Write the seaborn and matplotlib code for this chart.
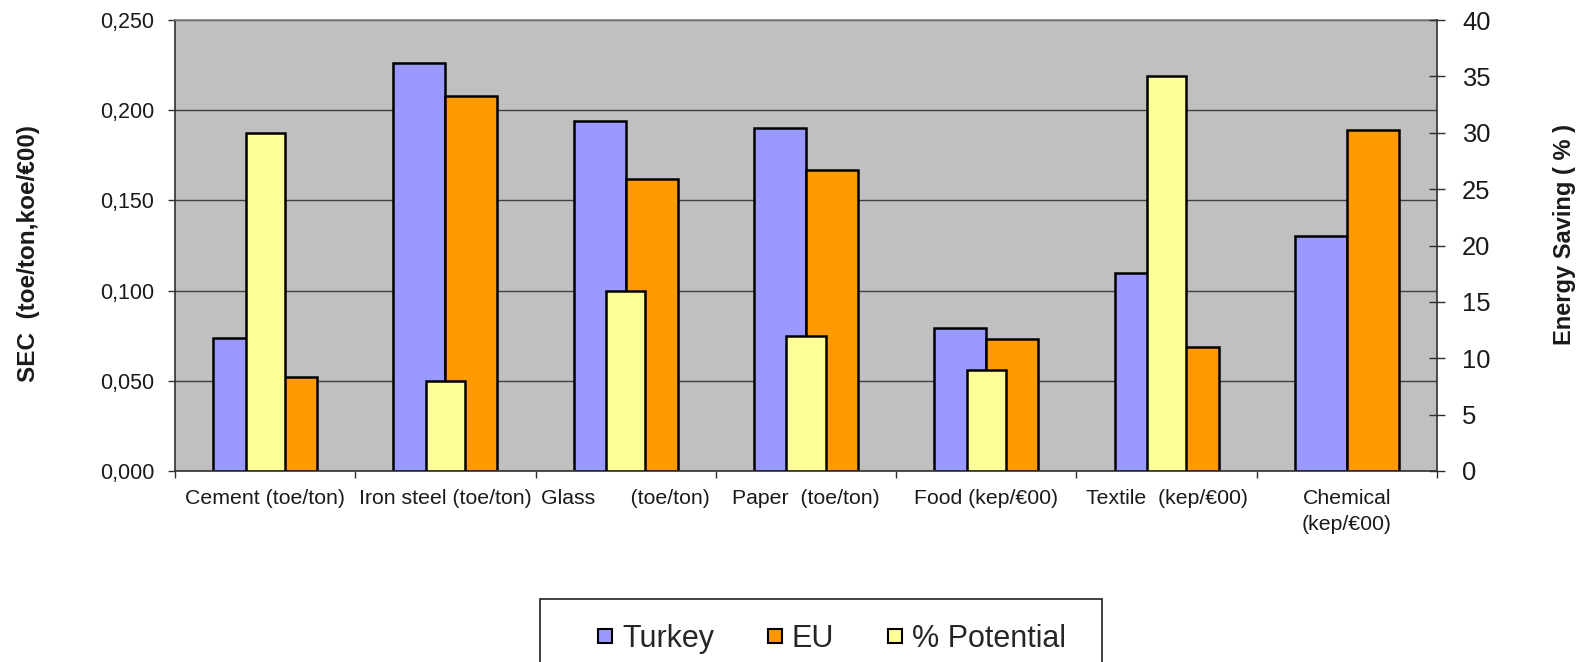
import matplotlib
matplotlib.use("Agg")
import matplotlib.pyplot as plt
import seaborn as sns
import pandas as pd
import numpy as np
from matplotlib.patches import Rectangle
from matplotlib.lines import Line2D

# ---- data ----
categories = ["Cement (toe/ton)", "Iron steel (toe/ton)", "Glass      (toe/ton)",
              "Paper  (toe/ton)", "Food (kep/€00)", "Textile  (kep/€00)",
              "Chemical\n(kep/€00)"]
turkey = [0.074, 0.226, 0.194, 0.190, 0.079, 0.110, 0.130]
eu = [0.052, 0.208, 0.162, 0.167, 0.073, 0.069, 0.189]
potential = [30, 8, 16, 12, 9, 35, np.nan]
sec_ticks = [0.0, 0.05, 0.10, 0.15, 0.20, 0.25]
sec_tick_labels = ["0,000", "0,050", "0,100", "0,150", "0,200", "0,250"]
pct_ticks = [0, 5, 10, 15, 20, 25, 30, 35, 40]
series = ["Turkey", "EU", "% Potential"]
colors = {"Turkey": "#9999FF", "EU": "#FF9900", "% Potential": "#FFFF99"}

sns.set_theme(style="white")
plt.rcParams["font.family"] = ["Liberation Sans", "DejaVu Sans"]

W, H = 1587, 662
fig = plt.figure(figsize=(W / 100, H / 100), dpi=100)
ax = fig.add_axes([175 / W, 1 - 471 / H, 1262 / W, 451 / H])
ax.set_facecolor("#C0C0C0")

df = pd.DataFrame({
    "Sector": categories * 2,
    "Series": ["Turkey"] * len(categories) + ["EU"] * len(categories),
    "Value": turkey + eu,
})
sns.barplot(data=df, x="Sector", y="Value", hue="Series", order=categories,
            hue_order=["Turkey", "EU"], palette=colors, saturation=1,
            width=0.577, edgecolor="black", linewidth=1.8, errorbar=None,
            legend=False, ax=ax, zorder=2)

ax2 = ax.twinx()
pdf = pd.DataFrame({"Sector": categories, "Value": potential})
sns.barplot(data=pdf, x="Sector", y="Value", order=categories,
            color=colors["% Potential"], saturation=1, width=0.217,
            edgecolor="black", linewidth=1.8, errorbar=None, ax=ax2, zorder=3)

ax.set_xlim(-0.5, len(categories) - 0.5)
ax.set_ylim(0, 0.25)
ax2.set_ylim(0, 40)

ax.set_axisbelow(True)
ax.yaxis.grid(True, color="#404040", linewidth=1.0)
ax.xaxis.grid(False)

# x ticks
ax.set_xticks(range(len(categories)))
ax.set_xticklabels(categories, fontsize=15.3, color="#1a1a1a")
ax.get_xticklabels()[-1].set_linespacing(1.45)
ax.set_xticks(np.arange(-0.5, len(categories), 1.0), minor=True)
ax.tick_params(axis="x", which="major", length=0, pad=13)
ax.tick_params(axis="x", which="minor", bottom=True, direction="out", length=5,
               width=1, color="#303030")
ax.set_xlabel("")

# left y
ax.set_yticks(sec_ticks)
ax.set_yticklabels(sec_tick_labels, fontsize=15.5, color="#1a1a1a")
ax.tick_params(axis="y", which="major", left=True, direction="out", length=5,
               width=1, color="#303030", pad=10)
ax.set_ylabel("SEC  (toe/ton,koe/€00)", fontsize=17.5, fontweight="bold",
              color="#1a1a1a")
ax.yaxis.set_label_coords((40 - 175) / 1262, 0.483)

# right y
ax2.set_yticks(pct_ticks)
ax2.set_yticklabels([str(t) for t in pct_ticks], fontsize=18.4, color="#1a1a1a")
ax2.tick_params(axis="y", which="major", right=True, direction="inout",
                length=12, width=1, color="#303030", pad=12)
ax2.set_ylabel("Energy Saving ( % )", fontsize=17, fontweight="bold",
               color="#1a1a1a")
ax2.yaxis.set_label_coords((1553 - 175) / 1262, 0.525)
ax2.tick_params(axis="x", which="both", bottom=False, top=False,
                labelbottom=False, labeltop=False)
ax2.set_xlabel("")

# spines
for s in ["left", "bottom"]:
    ax.spines[s].set_color("#303030")
    ax.spines[s].set_linewidth(1.2)
ax.spines["top"].set_color("#808080")
ax.spines["top"].set_linewidth(1.2)
ax.spines["right"].set_visible(False)
for s in ["left", "bottom", "top"]:
    ax2.spines[s].set_visible(False)
ax2.spines["right"].set_color("#303030")
ax2.spines["right"].set_linewidth(1.2)

# legend
handles = [Line2D([], [], marker="s", markersize=10, markerfacecolor=colors[s],
                  markeredgecolor="black", markeredgewidth=1.5, linestyle="None")
           for s in series]
fig.legend(handles, series, loc="center left",
           bbox_to_anchor=(593 / W, 1 - 639 / H), ncol=3, frameon=False,
           fontsize=22, handlelength=0.8, handletextpad=0.15,
           columnspacing=1.6, borderpad=0, borderaxespad=0)
fig.add_artist(Rectangle((540 / W, -0.2), 562 / W, 1 - 599 / H + 0.2,
                         transform=fig.transFigure, fill=False,
                         edgecolor="#202020", linewidth=1.2))

fig.savefig("out.png", dpi=100)
